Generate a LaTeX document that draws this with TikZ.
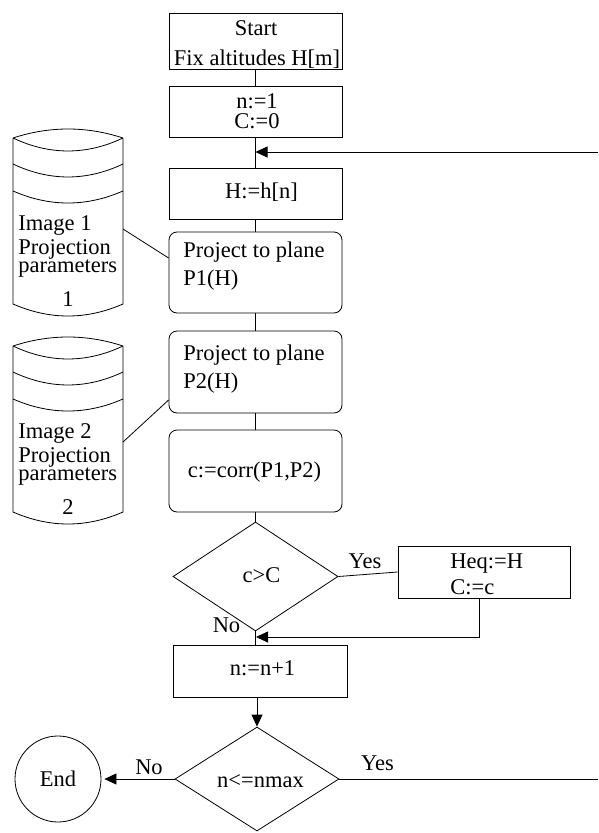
\documentclass[tikz,border=0pt]{standalone}
\usepackage{fontspec}
\setmainfont{Liberation Serif}
\usetikzlibrary{shapes.geometric,arrows.meta}
\begin{document}
\begin{tikzpicture}[x=1pt,y=-1pt,
  line width=0.8pt,
  pbox/.style={draw, rectangle, inner sep=0pt, minimum width=173pt},
  rbox/.style={pbox, rounded corners=8pt},
  dbox/.style={draw, diamond, inner sep=0pt},
  txt/.style={inner sep=0pt, font=\fontsize{22.5}{24}\selectfont},
  arrowline/.style={-{Triangle[length=12pt,width=11pt]}},
  dbcyl/.pic={
    \draw (13,138) .. controls (49.7,126) and (86.3,126) .. (123,138);
    \draw (13,138) .. controls (49.7,155.3) and (86.3,155.3) .. (123,138);
    \draw (13,164) .. controls (49.7,181.3) and (86.3,181.3) .. (123,164);
    \draw (13,191) .. controls (49.7,207) and (86.3,207) .. (123,191);
    \draw (13,138) -- (13,304) .. controls (49.7,320) and (86.3,320) .. (123,304) -- (123,138);
  }
]
\useasboundingbox (0,0) rectangle (598,833);

% main column boxes
\node[pbox, minimum height=56pt] (start) at (255.5,41) {};
\node[pbox, minimum height=51pt] (init) at (255.5,111.5) {};
\node[pbox, minimum height=51pt] (hset) at (255.5,193.5) {};
\node[rbox, minimum height=81pt] (proj1) at (255.5,272.5) {};
\node[rbox, minimum height=82pt] (proj2) at (255.5,372) {};
\node[rbox, minimum height=82pt] (corr) at (255.5,471) {};
\node[dbox, minimum width=165pt, minimum height=109pt] (dec1) at (255.5,576.5) {};
\node[pbox, minimum width=172pt, minimum height=52pt] (heq) at (484,572) {};
\node[pbox, minimum width=174pt, minimum height=52pt] (nn1) at (260,671) {};
\node[dbox, minimum width=164pt, minimum height=104pt] (dec2) at (257,779) {};
\node[draw, circle, inner sep=0pt, minimum size=86pt, txt] (end) at (58,779) {End};

% texts
\node[txt, anchor=base] (tstart) at (256,35) {Start};
\node[txt, anchor=base] (tfix) at (257,65) {Fix altitudes H[m]};
\node[txt, align=center, anchor=base] (tinit) at (257,128) {n:=1\\[-4pt]C:=0};
\node[txt, anchor=base] (th) at (261.5,198) {H:=h[n]};
\node[txt, anchor=base west] (tp1a) at (183,257) {Project to plane};
\node[txt, anchor=base west] (tp1b) at (183,285) {P1(H)};
\node[txt, anchor=base west] (tp2a) at (183,360) {Project to plane};
\node[txt, anchor=base west] (tp2b) at (183,388) {P2(H)};
\node[txt, anchor=base] (tcorr) at (254.5,477) {c:=corr(P1,P2)};
\node[txt, anchor=base] (tcC) at (261.5,582) {c>C};
\node[txt, anchor=base west] (theq) at (450,568) {Heq:=H};
\node[txt, anchor=base west] (tCc) at (450,594) {C:=c};
\node[txt, anchor=base] (tnn) at (262.5,675) {n:=n+1};
\node[txt, anchor=base] (tnmax) at (260.5,787) {n<=nmax};
\node[txt, anchor=base] (yes1) at (365,568) {Yes};
\node[txt, anchor=base] (no1) at (226.5,632) {No};
\node[txt, anchor=base] (no2) at (149,774) {No};
\node[txt, anchor=base] (yes2) at (377.5,770) {Yes};

% cylinders
\pic at (0,0) {dbcyl};
\pic at (0,208) {dbcyl};
\node[txt, align=left, anchor=base west] (i1) at (18,272) {Image 1\\Projection\\[-6pt]parameters};
\node[txt, anchor=base] (i1d) at (68,306) {1};
\node[txt, align=left, anchor=base west] (i2) at (18,480) {Image 2\\Projection\\[-6pt]parameters};
\node[txt, anchor=base] (i2d) at (68,514) {2};

% coordinates
\coordinate (c1o) at (123,229);
\coordinate (c2o) at (123,442);
\coordinate (eT) at (598,152);
\coordinate (eR) at (598,779);
\coordinate (hq) at (479,598);
\coordinate (mj) at (256,637);

% connectors
\draw (start.south) -- (init.north);
\draw (init.south) -- (hset.north);
\draw[arrowline] (eT) -- (eT -| init.south);
\draw (hset.south) -- (proj1.north);
\draw (proj1.south) -- (proj2.north);
\draw (proj2.south) -- (corr.north);
\draw (corr.south) -- (dec1.north);
\draw (dec1.south) -- (nn1.north -| dec1.south);
\draw (dec1.east) -- (heq.west);
\draw[arrowline] (hq) |- (mj);
\draw[arrowline] (nn1.south -| dec2.north) -- (dec2.north);
\draw[arrowline, shorten >=3pt] (dec2.west) -- (end.east);
\draw (dec2.east) -- (eR);
\draw (c1o) -- ([yshift=14.5pt]proj1.west);
\draw (c2o) -- ([yshift=-28pt]proj2.west);
\end{tikzpicture}
\end{document}
